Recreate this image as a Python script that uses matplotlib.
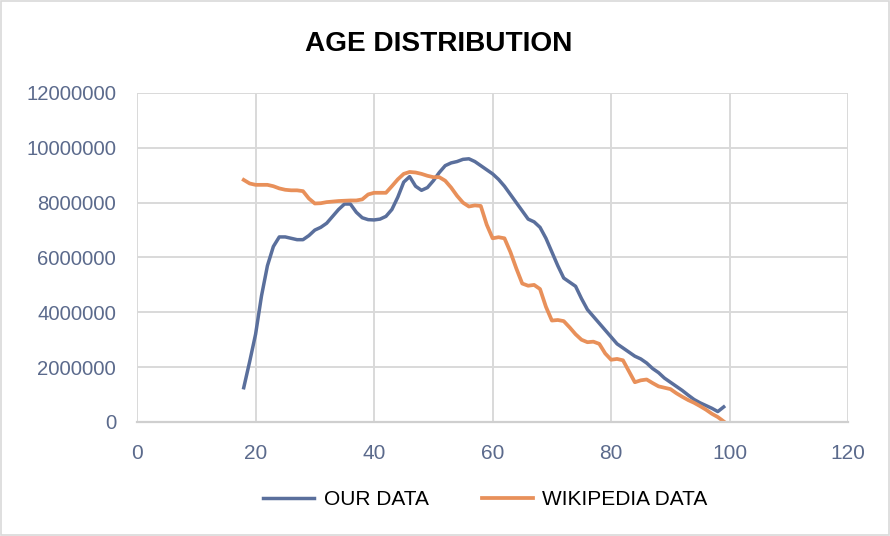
import matplotlib
matplotlib.use('Agg')
import matplotlib.pyplot as plt
from matplotlib.patches import Rectangle

plt.rcParams['font.family'] = ['Liberation Sans', 'DejaVu Sans']

# ages (one point per year)
ages = list(range(18, 100))

# our data, in millions
our_data = [1.25, 2.2, 3.2, 4.6, 5.7, 6.4, 6.75, 6.75, 6.7, 6.65,
            6.65, 6.8, 7.0, 7.1, 7.25, 7.5, 7.75, 7.95, 7.95, 7.65,
            7.45, 7.38, 7.37, 7.4, 7.5, 7.75, 8.2, 8.75, 8.95, 8.6,
            8.45, 8.55, 8.8, 9.1, 9.35, 9.45, 9.5, 9.58, 9.6, 9.5,
            9.35, 9.2, 9.05, 8.85, 8.6, 8.3, 8.0, 7.7, 7.4, 7.3,
            7.1, 6.7, 6.2, 5.7, 5.25, 5.1, 4.95, 4.5, 4.1, 3.85,
            3.6, 3.35, 3.1, 2.85, 2.7, 2.55, 2.4, 2.3, 2.15, 1.95,
            1.8, 1.6, 1.45, 1.3, 1.15, 0.98, 0.82, 0.7, 0.6, 0.5,
            0.38, 0.55]

# wikipedia data, in millions
wiki_data = [8.83, 8.7, 8.65, 8.65, 8.65, 8.6, 8.52, 8.47, 8.45, 8.45,
             8.42, 8.15, 7.97, 7.98, 8.02, 8.04, 8.06, 8.07, 8.08, 8.08,
             8.12, 8.3, 8.36, 8.36, 8.36, 8.6, 8.85, 9.05, 9.12, 9.1,
             9.05, 8.98, 8.93, 8.93, 8.8, 8.55, 8.25, 8.0, 7.86, 7.9,
             7.88, 7.2, 6.7, 6.74, 6.7, 6.2, 5.6, 5.05, 4.97, 5.0,
             4.85, 4.2, 3.7, 3.72, 3.68, 3.45, 3.2, 3.0, 2.91, 2.93,
             2.85, 2.5, 2.27, 2.3, 2.25, 1.85, 1.45, 1.52, 1.55, 1.42,
             1.3, 1.25, 1.2, 1.05, 0.92, 0.8, 0.7, 0.58, 0.45, 0.3,
             0.18, 0.02]

x_ticks = [0, 20, 40, 60, 80, 100, 120]
y_ticks = [0, 2000000, 4000000, 6000000, 8000000, 10000000, 12000000]

tick_col = '#5b6a8c'
blue = '#5a6f9c'
orange = '#e8905a'

fig = plt.figure(figsize=(8.9, 5.36), dpi=100)
ax = fig.add_axes([0.154, 0.2127, 0.799, 0.6138])

ax.plot(ages, [v * 1e6 for v in our_data], color=blue, lw=2.5,
        label='OUR DATA', solid_joinstyle='round')
ax.plot(ages, [v * 1e6 for v in wiki_data], color=orange, lw=2.7,
        label='WIKIPEDIA DATA', solid_joinstyle='round')

ax.set_xlim(0, 120)
ax.set_ylim(0, 12000000)
ax.set_xticks(x_ticks)
ax.set_yticks(y_ticks)
ax.set_xticklabels([str(t) for t in x_ticks])
ax.set_yticklabels([str(t) for t in y_ticks])
ax.tick_params(length=0, labelsize=15, labelcolor=tick_col)
ax.tick_params(axis='y', labelsize=14.6, pad=15)
ax.tick_params(axis='x', pad=16)
ax.grid(True, color='#d9d9d9', lw=1.4)
ax.set_axisbelow(True)
for s in ['top', 'right', 'left']:
    ax.spines[s].set_visible(False)
ax.spines['bottom'].set_color('#cfcfcf')
ax.spines['bottom'].set_linewidth(1.6)

fig.text(0.4925, 1 - 43.7 / 536, 'AGE DISTRIBUTION', ha='center', va='center',
         fontsize=20.2, fontweight='bold', color='black')

fig.legend(loc='center', bbox_to_anchor=(0.5455, 0.068), ncol=2, frameon=False,
           fontsize=15, handlelength=2.45, handletextpad=0.45, columnspacing=2.55)

fig.patches.append(Rectangle((0.001, 0.001), 0.998, 0.998, transform=fig.transFigure,
                             fill=False, edgecolor='#d9d9d9', lw=1.2))

plt.savefig('out.png', dpi=100)
